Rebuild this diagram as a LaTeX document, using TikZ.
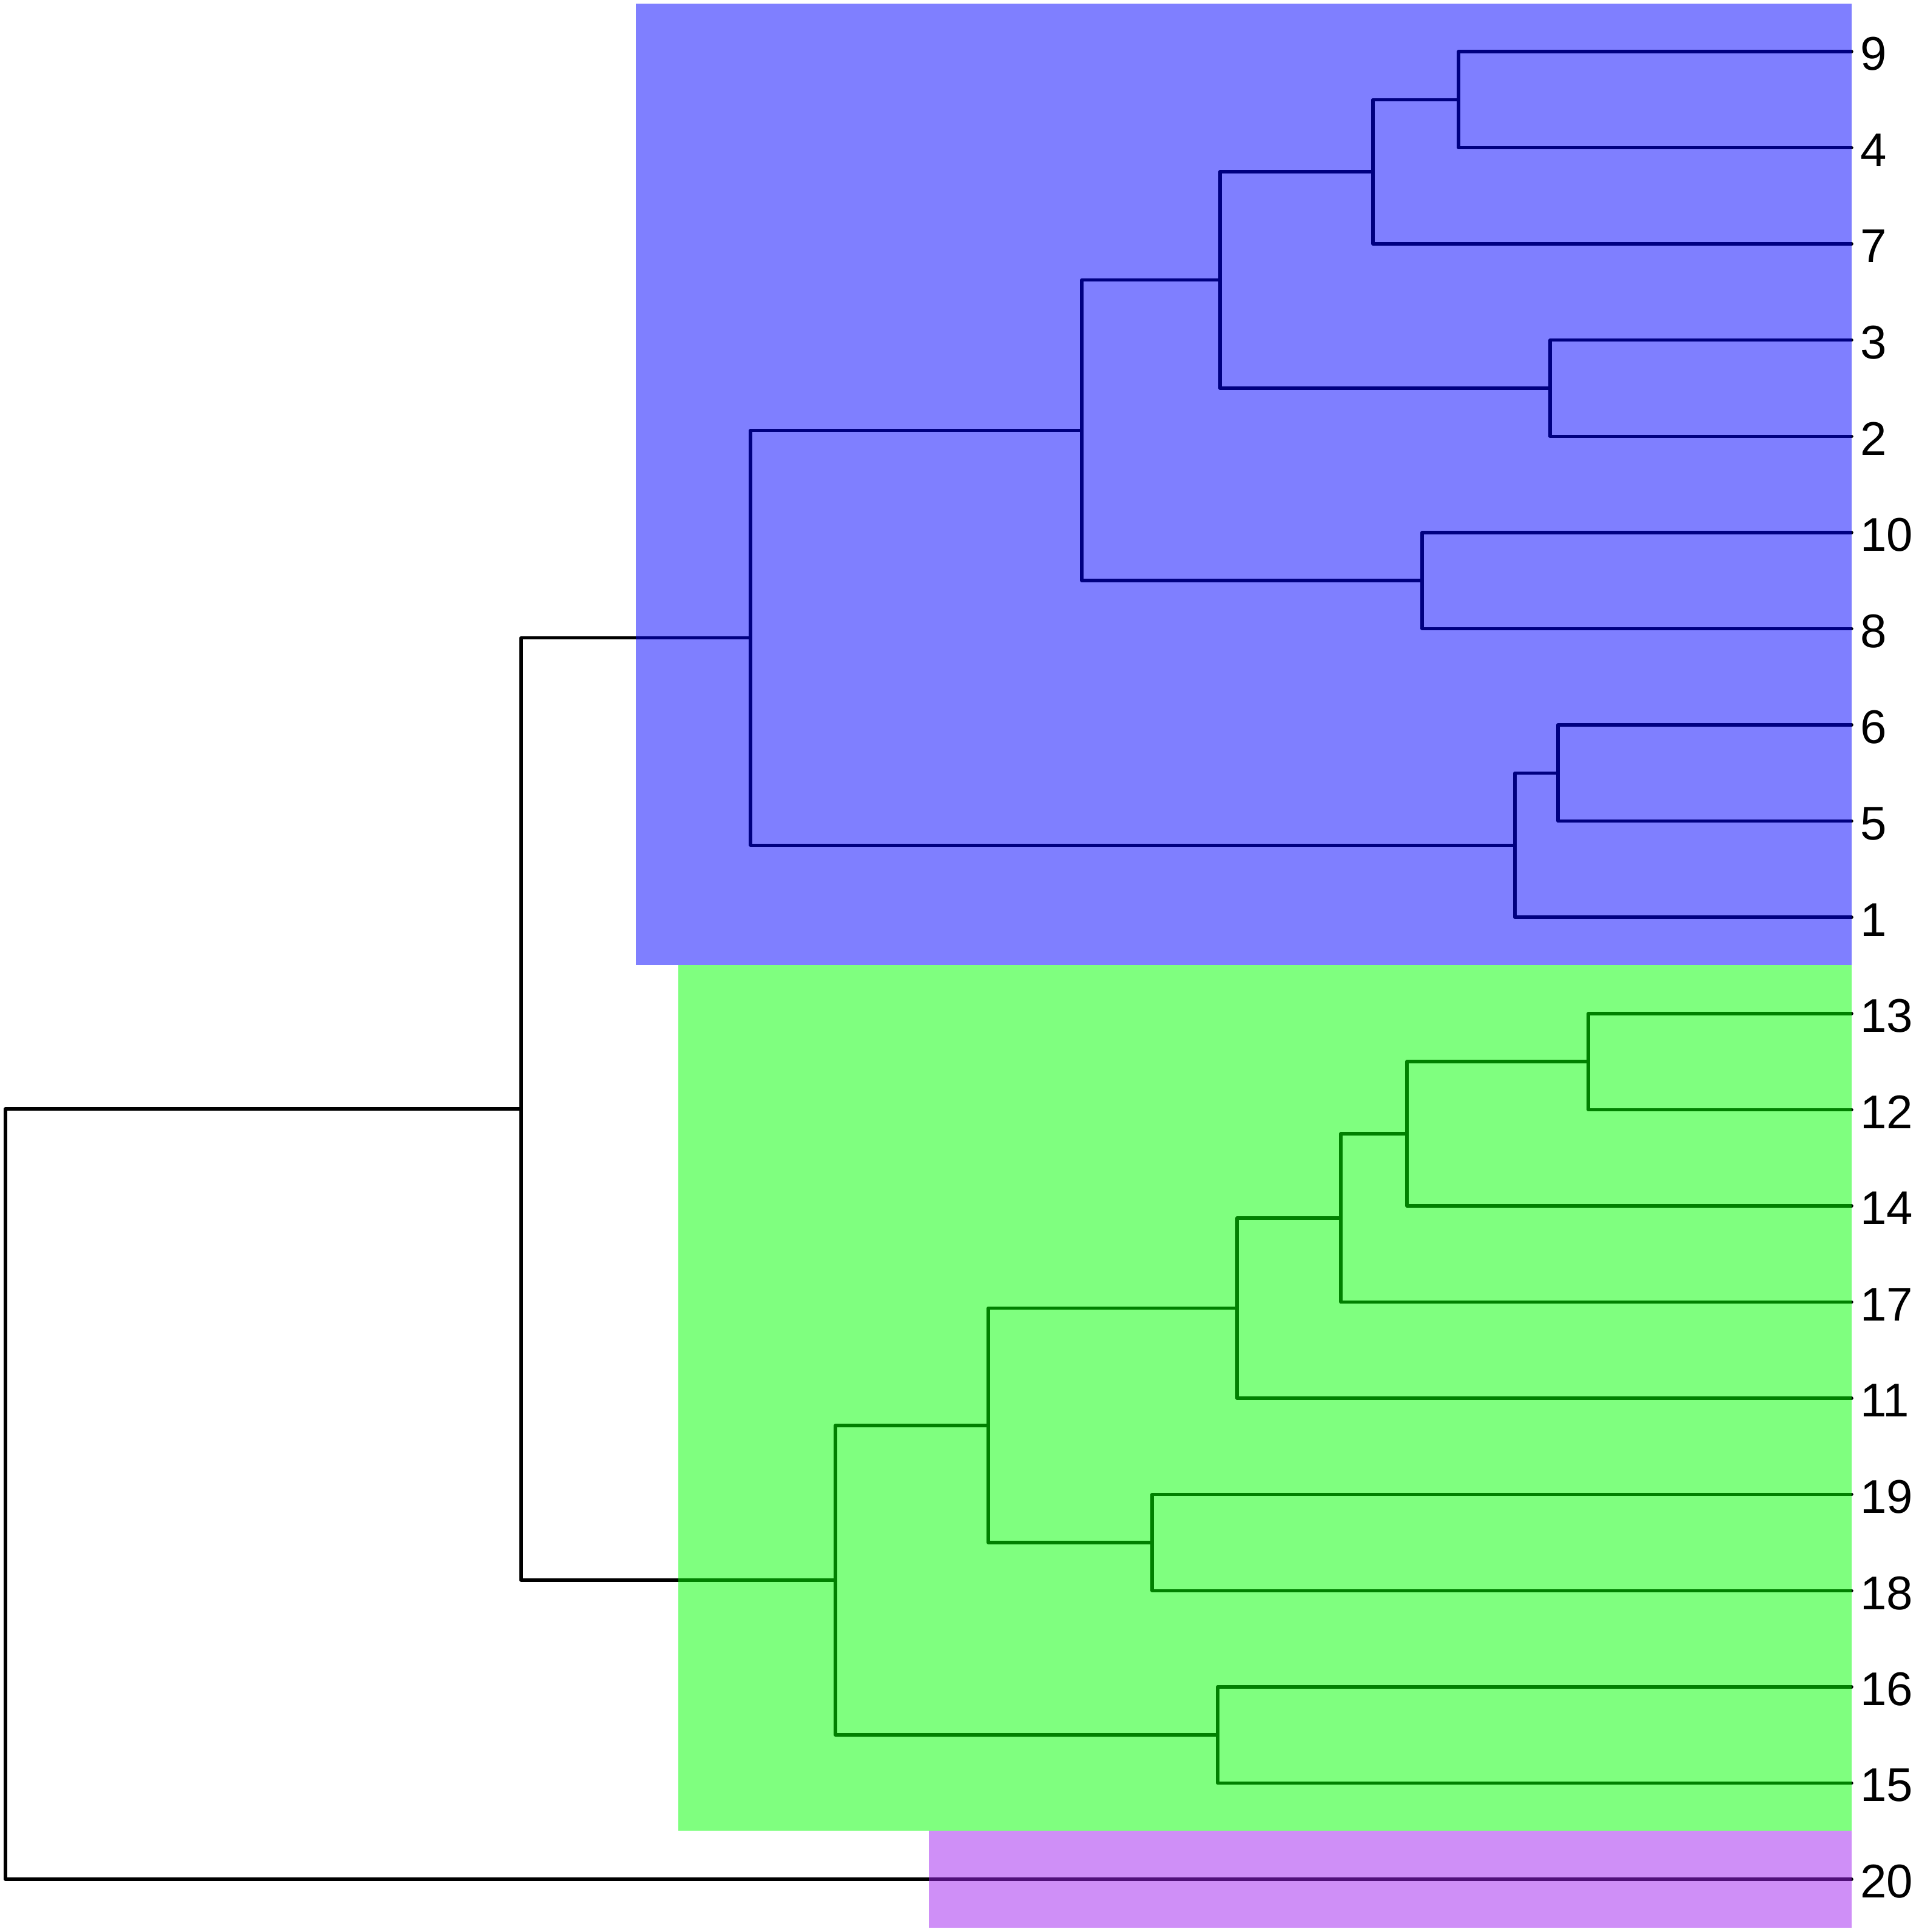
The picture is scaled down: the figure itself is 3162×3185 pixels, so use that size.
\documentclass[tikz,border=0pt]{standalone}
\usepackage{fontspec}
\setmainfont{Liberation Sans}
\definecolor{rblue}{RGB}{0,0,255}
\definecolor{rgreen}{RGB}{0,255,0}
\definecolor{rpurple}{RGB}{160,32,240}
\tikzset{
  branch/.style={draw=black,line width=5.5pt,line cap=round,line join=round},
  clusterbox/.style={fill opacity=0.5,draw=none},
  leaflabel/.style={anchor=west,inner sep=0pt,xshift=14pt,yshift=-4pt,font=\fontsize{78}{82}\selectfont}
}
\begin{document}
\begin{tikzpicture}[x=1pt,y=-1pt]
\useasboundingbox (0,0) rectangle (3162,3185);
% leaves
\coordinate (l9)  at (3052,85);
\coordinate (l4)  at (3052,243.58);
\coordinate (l7)  at (3052,402.16);
\coordinate (l3)  at (3052,560.74);
\coordinate (l2)  at (3052,719.32);
\coordinate (l10) at (3052,877.9);
\coordinate (l8)  at (3052,1036.48);
\coordinate (l6)  at (3052,1195.06);
\coordinate (l5)  at (3052,1353.64);
\coordinate (l1)  at (3052,1512.22);
\coordinate (l13) at (3052,1670.8);
\coordinate (l12) at (3052,1829.38);
\coordinate (l14) at (3052,1987.96);
\coordinate (l17) at (3052,2146.54);
\coordinate (l11) at (3052,2305.12);
\coordinate (l19) at (3052,2463.7);
\coordinate (l18) at (3052,2622.28);
\coordinate (l16) at (3052,2780.86);
\coordinate (l15) at (3052,2939.44);
\coordinate (l20) at (3052,3098.02);
% internal nodes
\coordinate (n94)    at (2404,164.29);
\coordinate (n947)   at (2263,283.23);
\coordinate (n32)    at (2555,640.03);
\coordinate (nA)     at (2011,461.63);
\coordinate (n108)   at (2344,957.19);
\coordinate (nB)     at (1783,709.41);
\coordinate (n65)    at (2568,1274.35);
\coordinate (n651)   at (2497,1393.29);
\coordinate (nBlue)  at (1237,1051.35);
\coordinate (n1312)  at (2618,1750.09);
\coordinate (n14)    at (2319,1869.03);
\coordinate (n17)    at (2210,2007.79);
\coordinate (n11)    at (2039,2156.46);
\coordinate (n1918)  at (1899,2542.99);
\coordinate (nC)     at (1629,2349.73);
\coordinate (n1615)  at (2007,2860.15);
\coordinate (nGreen) at (1377,2604.94);
\coordinate (nBG)    at (859,1828.15);
\coordinate (root)   at (9,2463.09);
% branches
\draw[branch] (l9) -| (n94) |- (l4);
\draw[branch] (n94) -| (n947) |- (l7);
\draw[branch] (l3) -| (n32) |- (l2);
\draw[branch] (n947) -| (nA) |- (n32);
\draw[branch] (l10) -| (n108) |- (l8);
\draw[branch] (nA) -| (nB) |- (n108);
\draw[branch] (l6) -| (n65) |- (l5);
\draw[branch] (n65) -| (n651) |- (l1);
\draw[branch] (nB) -| (nBlue) |- (n651);
\draw[branch] (l13) -| (n1312) |- (l12);
\draw[branch] (n1312) -| (n14) |- (l14);
\draw[branch] (n14) -| (n17) |- (l17);
\draw[branch] (n17) -| (n11) |- (l11);
\draw[branch] (l19) -| (n1918) |- (l18);
\draw[branch] (n11) -| (nC) |- (n1918);
\draw[branch] (l16) -| (n1615) |- (l15);
\draw[branch] (nC) -| (nGreen) |- (n1615);
\draw[branch] (nBlue) -| (nBG) |- (nGreen);
\draw[branch] (nBG) -| (root) |- (l20);
% cluster rectangles
\fill[clusterbox,rblue]   (1048,6) rectangle (3052,1591);
\fill[clusterbox,rgreen]  (1118,1591) rectangle (3052,3018);
\fill[clusterbox,rpurple] (1531,3018) rectangle (3052,3178);
% labels
\foreach \n in {9,4,7,3,2,10,8,6,5,1,13,12,14,17,11,19,18,16,15,20}
  \node[leaflabel] (t\n) at (l\n) {\n};
\end{tikzpicture}
\end{document}
